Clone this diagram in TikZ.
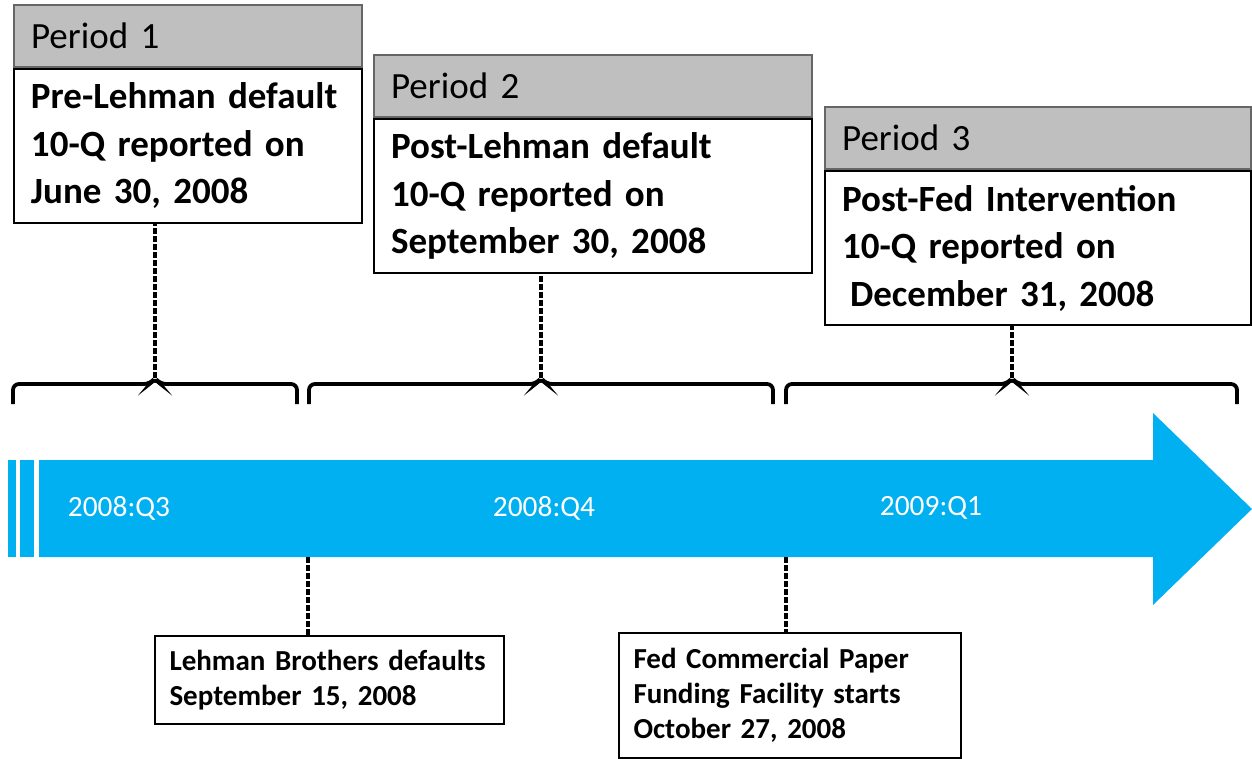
\documentclass[tikz,border=0pt]{standalone}
\usepackage{fontspec}
\setmainfont{Carlito}
\usetikzlibrary{positioning}
\definecolor{tlblue}{HTML}{00B0F0}
\definecolor{hdgray}{HTML}{BFBFBF}
\hyphenpenalty=10000

\begin{document}
\begin{tikzpicture}[x=0.5pt, y=-0.5pt,
        headbox/.style={draw=black!60, fill=hdgray, line width=1.1pt, anchor=south west,
            minimum height=31pt, inner xsep=8.5pt, inner ysep=0pt, align=left,
            font=\fontsize{18.5pt}{22pt}\selectfont},
        bodybox/.style={draw, fill=white, line width=1pt, anchor=north west,
            minimum height=77pt, inner xsep=8.5pt, inner ysep=0pt, align=left,
            font=\bfseries\fontsize{18.5pt}{23.75pt}\selectfont},
        eventbox/.style={draw, line width=1pt, anchor=north west,
            inner xsep=7.25pt, inner ysep=0pt, align=left,
            font=\bfseries\fontsize{14.5pt}{17.5pt}\selectfont},
        quarter/.style={text=white, font=\fontsize{14.7pt}{17pt}\selectfont},
        link/.style={line width=1.6pt, dash pattern=on 3pt off 1pt},
        brace/.style={line width=1.9pt, rounded corners=3pt}]
    \useasboundingbox (0,0) rectangle (1252,759);

    % periods
    \node[bodybox, text width=157pt] (body1) at (13,68)
        {Pre-Lehman default\\10-Q reported on\\June 30, 2008};
    \node[headbox, text width=157pt] (head1) at (body1.north west) {Period 1};
    \node[bodybox, text width=202pt] (body2) at (373,118)
        {Post-Lehman default\\10-Q reported on\\September 30, 2008};
    \node[headbox, text width=202pt] (head2) at (body2.north west) {Period 2};
    \node[bodybox, text width=196pt] (body3) at (824,170)
        {Post-Fed Intervention\\10-Q reported on\\\hspace{4pt}December 31, 2008};
    \node[headbox, text width=196pt] (head3) at (body3.north west) {Period 3};

    % brackets
    \foreach \l/\r/\m/\n in {13/297/155/1, 309/773/541/2, 786/1237/1012/3} {
        \draw[brace] (\l,404) -- (\l,384) -- (\m-5,384) -- (\m,378)
            -- (\m+5,384) -- (\r,384) -- (\r,404);
        \coordinate (tip\n) at (\m,378);
        \draw[link] (tip\n) -- (tip\n |- body\n.south);
    }

    % time line
    \fill[tlblue] (39,460) -- (1153,460) -- (1153,413) -- (1252,509)
        -- (1153,605) -- (1153,557) -- (39,557) -- cycle;
    \fill[tlblue] (8,460) rectangle (16,557);
    \fill[tlblue] (20,460) rectangle (34,557);
    \node[quarter] (q3) at (119,508) {2008:Q3};
    \node[quarter] (q4) at (544,508) {2008:Q4};
    \node[quarter] (q1) at (931,508) {2009:Q1};

    % events
    \coordinate (leh) at (308,557);
    \coordinate (cpff) at (786,557);
    \node[eventbox, text width=160pt, minimum height=44pt] (ev1) at (154,635)
        {Lehman Brothers defaults\\September 15, 2008};
    \node[eventbox, text width=156.5pt, minimum height=62.5pt] (ev2) at (618,632)
        {Fed Commercial Paper\\Funding Facility starts\\October 27, 2008};
    \draw[link] (leh) -- (leh |- ev1.north);
    \draw[link] (cpff) -- (cpff |- ev2.north);
\end{tikzpicture}
\end{document}
